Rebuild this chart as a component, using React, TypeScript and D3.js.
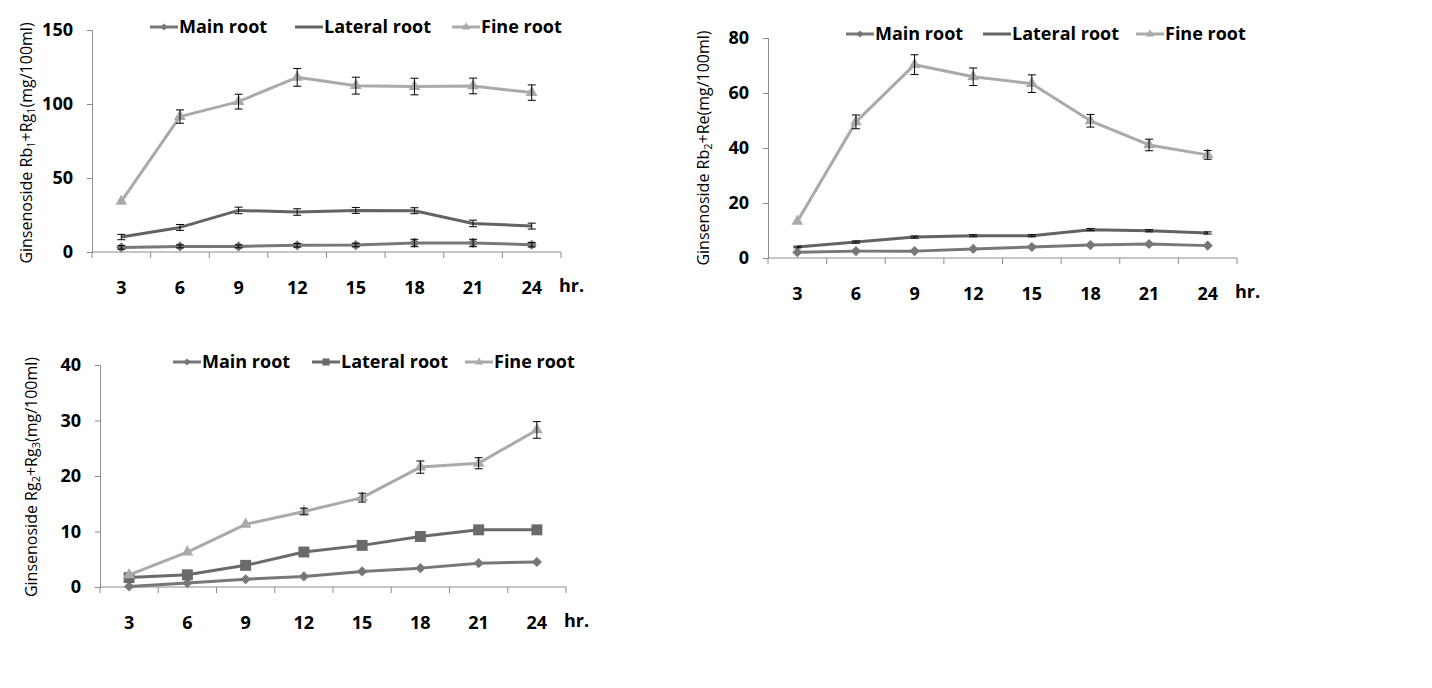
import { useEffect, useRef } from 'react'
import * as d3 from 'd3'

const W = 1432
const H = 688
const FONT = "'Open Sans', 'DejaVu Sans', sans-serif"

const HOURS = ['3', '6', '9', '12', '15', '18', '21', '24']
const SERIES_NAMES = ['Main root', 'Lateral root', 'Fine root']

// Rb1 + Rg1
const rb1Main = [3.1, 3.8, 3.8, 4.5, 4.7, 6.1, 6.1, 4.9]
const rb1MainErr = [1.2, 1, 1, 1.2, 1.2, 2.5, 2.5, 1.5]
const rb1Lateral = [10.1, 16.6, 28.1, 27, 28.1, 27.9, 19.3, 17.5]
const rb1LateralErr = [1.8, 2, 2.2, 2.2, 2, 2, 2.2, 2]
const rb1Fine = [34.2, 91.5, 101.6, 118, 112.4, 111.8, 112.2, 107.7]
const rb1FineErr = [0, 4.5, 5, 6, 5.7, 5.6, 5.3, 5.2]

// Rb2 + Re
const rb2Main = [2.1, 2.5, 2.5, 3.3, 4, 4.7, 5.1, 4.5]
const rb2MainErr = [0, 0, 0, 0, 0, 0, 0, 0]
const rb2Lateral = [4, 5.8, 7.6, 8.1, 8.1, 10.3, 9.9, 9.1]
const rb2LateralErr = [0.3, 0.4, 0.4, 0.4, 0.4, 0.4, 0.4, 0.4]
const rb2Fine = [13.3, 49.5, 70.3, 65.9, 63.4, 49.9, 41.1, 37.5]
const rb2FineErr = [0, 2.5, 3.6, 3.2, 3.2, 2.3, 2.1, 1.6]

// Rg2 + Rg3
const rg2Main = [0.1, 0.7, 1.4, 1.9, 2.8, 3.4, 4.3, 4.5]
const rg2MainErr = [0, 0, 0, 0, 0, 0, 0, 0]
const rg2Lateral = [1.7, 2.2, 3.9, 6.3, 7.5, 9.1, 10.3, 10.3]
const rg2LateralErr = [0, 0, 0, 0, 0, 0, 0, 0]
const rg2Fine = [2.2, 6.3, 11.3, 13.6, 16.1, 21.6, 22.3, 28.3]
const rg2FineErr = [0, 0, 0, 0.6, 0.8, 1.1, 1.0, 1.5]

type Marker = 'diamond' | 'square' | 'triangle' | 'none'

interface Series {
  values: number[]
  errors: number[]
  color: string
  marker: Marker
}

interface Panel {
  left: number
  right: number
  top: number
  bottom: number
  yMax: number
  yStep: number
  title: [string, string, string, string, string]
  titleX: number
  titleY: number
  legendY: number
  legendX: number[]
  series: Series[]
}

const MAIN_C = '#777777'
const LAT_C = '#636363'
const FINE_C = '#aaaaaa'

const panels: Panel[] = [
  {
    left: 92, right: 561, top: 30, bottom: 252, yMax: 150, yStep: 50,
    title: ['Ginsenoside Rb', '1', '+Rg', '1', '(mg/100ml)'],
    titleX: 26, titleY: 143, legendY: 27, legendX: [150, 295, 452],
    series: [
      { values: rb1Main, errors: rb1MainErr, color: MAIN_C, marker: 'diamond' },
      { values: rb1Lateral, errors: rb1LateralErr, color: LAT_C, marker: 'none' },
      { values: rb1Fine, errors: rb1FineErr, color: FINE_C, marker: 'triangle' },
    ],
  },
  {
    left: 768, right: 1237, top: 38, bottom: 258, yMax: 80, yStep: 20,
    title: ['Ginsenoside Rb', '2', '+Re(mg/100ml)', '', ''],
    titleX: 703, titleY: 148, legendY: 34, legendX: [846, 983, 1136],
    series: [
      { values: rb2Main, errors: rb2MainErr, color: MAIN_C, marker: 'diamond' },
      { values: rb2Lateral, errors: rb2LateralErr, color: LAT_C, marker: 'none' },
      { values: rb2Fine, errors: rb2FineErr, color: FINE_C, marker: 'triangle' },
    ],
  },
  {
    left: 100, right: 566, top: 365, bottom: 587, yMax: 40, yStep: 10,
    title: ['Ginsenoside Rg', '2', '+Rg', '3', '(mg/100ml)'],
    titleX: 31, titleY: 477, legendY: 362, legendX: [173, 312, 465],
    series: [
      { values: rg2Main, errors: rg2MainErr, color: MAIN_C, marker: 'diamond' },
      { values: rg2Lateral, errors: rg2LateralErr, color: '#6a6a6a', marker: 'square' },
      { values: rg2Fine, errors: rg2FineErr, color: FINE_C, marker: 'triangle' },
    ],
  },
]

function markerPath(m: Marker, big: boolean) {
  if (m === 'diamond') return d3.symbol(d3.symbolSquare, big ? 52 : 26)()
  if (m === 'square') return d3.symbol(d3.symbolSquare, big ? 120 : 50)()
  if (m === 'triangle') return d3.symbol(d3.symbolTriangle, big ? 60 : 30)()
  return null
}

function drawPanel(root: d3.Selection<SVGSVGElement, unknown, null, undefined>, p: Panel) {
  const g = root.append('g')
  const x = d3.scaleBand().domain(HOURS).range([p.left, p.right])
  const y = d3.scaleLinear().domain([0, p.yMax]).range([p.bottom, p.top])
  const cx = (i: number) => (x(HOURS[i]) ?? 0) + x.bandwidth() / 2

  // y axis
  g.append('g')
    .attr('transform', `translate(${p.left},0)`)
    .call(d3.axisLeft(y).tickValues(d3.range(0, p.yMax + 1, p.yStep)).tickSize(5).tickPadding(14).tickFormat(d3.format('d')))
    .call((a) => {
      a.select('.domain').attr('stroke', '#8c8c8c')
      a.selectAll('.tick line').attr('stroke', '#8c8c8c')
      a.selectAll('text').attr('fill', '#000').attr('font-size', 18).attr('font-weight', 700).attr('font-family', FONT)
    })

  // x axis: ticks at band edges, labels at band centres
  g.append('line').attr('x1', p.left).attr('x2', p.right).attr('y1', p.bottom).attr('y2', p.bottom).attr('stroke', '#8c8c8c')
  const edges = HOURS.map((h) => x(h) ?? 0).concat([p.right])
  g.selectAll('.xtick').data(edges).join('line')
    .attr('x1', (d) => d).attr('x2', (d) => d)
    .attr('y1', p.bottom).attr('y2', p.bottom + 6)
    .attr('stroke', '#8c8c8c')
  g.selectAll('.xlab').data(HOURS).join('text')
    .attr('x', (_, i) => cx(i)).attr('y', p.bottom + 36)
    .attr('dy', '0.35em').attr('text-anchor', 'middle')
    .attr('font-size', 18).attr('font-weight', 700).attr('font-family', FONT)
    .text((d) => d)
  g.append('text')
    .attr('x', p.right - 2).attr('y', p.bottom + 34).attr('dy', '0.35em')
    .attr('font-size', 18).attr('font-weight', 700).attr('font-family', FONT)
    .text('hr.')

  // title
  const t = g.append('text')
    .attr('transform', `translate(${p.titleX},${p.titleY}) rotate(-90)`)
    .attr('text-anchor', 'middle').attr('dy', '0.35em')
    .attr('font-size', 16).attr('font-family', FONT).attr('fill', '#000')
  p.title.forEach((s, i) => {
    if (!s) return
    const sp = t.append('tspan').text(s)
    if (i % 2 === 1) sp.attr('font-size', 11).attr('baseline-shift', '-25%')
  })

  // series
  const line = d3.line<number>().x((_, i) => cx(i)).y((d) => y(d))
  p.series.forEach((s) => {
    g.append('path').datum(s.values)
      .attr('fill', 'none').attr('stroke', s.color).attr('stroke-width', 3)
      .attr('stroke-linejoin', 'round')
      .attr('d', line)
    const pth = markerPath(s.marker, true)
    if (pth) {
      g.selectAll(null).data(s.values).join('path')
        .attr('d', pth)
        .attr('transform', (d, i) => `translate(${cx(i)},${y(d)})${s.marker === 'diamond' ? ' rotate(45)' : ''}`)
        .attr('fill', s.color)
    }
    // error bars
    const eb = g.append('g').attr('stroke', '#000').attr('stroke-width', 1)
    s.values.forEach((v, i) => {
      const e = s.errors[i]
      if (!e) return
      const xx = cx(i)
      const y1 = y(v + e)
      const y2 = y(Math.max(0, v - e))
      eb.append('line').attr('x1', xx).attr('x2', xx).attr('y1', y1).attr('y2', y2)
      eb.append('line').attr('x1', xx - 4).attr('x2', xx + 4).attr('y1', y1).attr('y2', y1)
      eb.append('line').attr('x1', xx - 4).attr('x2', xx + 4).attr('y1', y2).attr('y2', y2)
    })
  })

  // legend
  p.series.forEach((s, i) => {
    const lx = p.legendX[i]
    const lg = g.append('g')
    lg.append('line').attr('x1', lx).attr('x2', lx + 28).attr('y1', p.legendY).attr('y2', p.legendY)
      .attr('stroke', s.color).attr('stroke-width', 3)
    const pth = markerPath(s.marker, false)
    if (pth) {
      lg.append('path').attr('d', pth)
        .attr('transform', `translate(${lx + 14},${p.legendY})${s.marker === 'diamond' ? ' rotate(45)' : ''}`)
        .attr('fill', s.color)
    }
    lg.append('text')
      .attr('x', lx + 29).attr('y', p.legendY).attr('dy', '0.35em')
      .attr('font-size', 18).attr('font-weight', 700).attr('font-family', FONT)
      .text(SERIES_NAMES[i])
  })
}

export default function App() {
  const ref = useRef<SVGSVGElement>(null)

  useEffect(() => {
    if (!ref.current) return
    const svg = d3.select(ref.current)
    svg.selectAll('*').remove()
    svg.append('rect').attr('width', W).attr('height', H).attr('fill', '#fff')
    panels.forEach((p) => drawPanel(svg, p))
  }, [])

  return (
    <svg
      ref={ref}
      width={W}
      height={H}
      style={{ position: 'absolute', left: 0, top: 0, background: '#fff' }}
    />
  )
}
